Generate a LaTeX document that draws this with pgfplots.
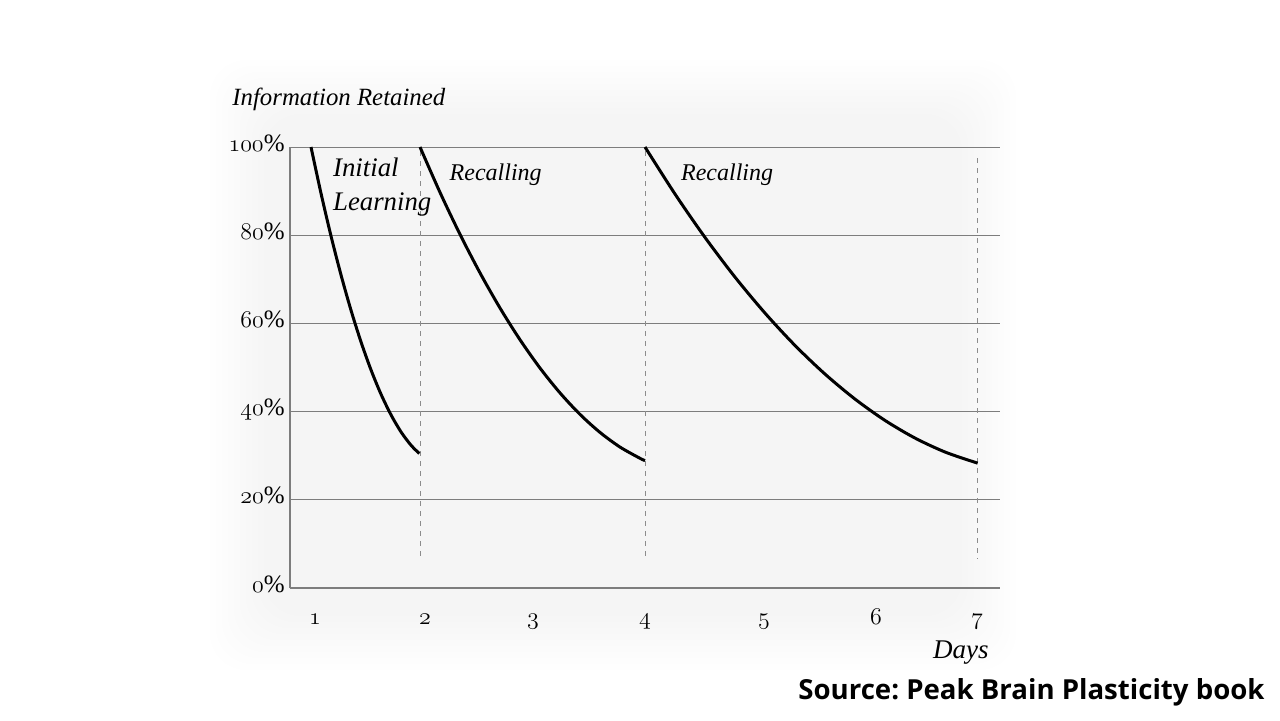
\documentclass[border=0pt]{standalone}
\usepackage{pgfplots}
\pgfplotsset{compat=1.18}
\usepackage{fontspec}
\setmainfont{Liberation Serif}
\newfontfamily\srcfont{Open Sans}
\newcommand\osn[1]{{\usefont{OML}{lmm}{m}{it}#1}}
\definecolor{gridc}{RGB}{125,125,125}
\definecolor{dashc}{RGB}{140,140,140}
\frenchspacing
\begin{document}
\begin{tikzpicture}
\path[use as bounding box] (0,0) rectangle (640pt,360pt);
% very soft background glow
\foreach \i in {0,...,9}{
  \fill[black, opacity=0.0025, rounded corners=18pt]
    ({105pt+\i*3pt},{25pt+\i*3pt}) rectangle ({508pt-\i*3pt},{330pt-\i*3pt});
}
\begin{axis}[
  at={(145pt,66pt)}, anchor=south west,
  scale only axis, width=355pt, height=220.5pt,
  xmin=290, xmax=1000, ymin=0, ymax=100,
  axis lines*=left,
  axis line style={draw=gridc, line width=0.6pt},
  ymajorgrids, grid style={draw=gridc, line width=0.5pt},
  major tick length=0pt,
  xtick={315,425,533,645,764,876,977},
  xticklabels={\osn{1},\osn{2},\osn{3},\osn{4},\osn{5},\osn{6},\osn{7}},
  ytick={0,20,40,60,80,100},
  yticklabels={\osn{0}\%,\osn{20}\%,\osn{40}\%,\osn{60}\%,\osn{80}\%,\osn{100}\%},
  yticklabel style={font=\fontsize{12.5}{14}\selectfont, anchor=base east, inner sep=0pt, xshift=-2.5pt, yshift=-2pt},
  xticklabel style={font=\fontsize{13}{15}\selectfont, anchor=base, yshift=-18pt},
  clip=false,
]
\addplot[dashc, line width=0.5pt, dash pattern=on 2.5pt off 2.5pt, mark=none] coordinates {(420,99) (420,6.5)};
\addplot[dashc, line width=0.5pt, dash pattern=on 2.5pt off 2.5pt, mark=none] coordinates {(645,99) (645,6.5)};
\addplot[dashc, line width=0.5pt, dash pattern=on 2.5pt off 2.5pt, mark=none] coordinates {(977,97.5) (977,6.5)};
% Initial learning
\addplot[black, line width=1.5pt, smooth, mark=none] coordinates {
  (311,100) (321,89.50) (331,79.83) (341,71.00) (351,62.99) (361,55.81)
  (371,49.46) (381,43.95) (391,39.27) (401,35.40) (411,32.38) (419.3,30.5)};
% First recall
\addplot[black, line width=1.5pt, smooth, mark=none] coordinates {
  (420,100) (440,89.71) (460,80.20) (480,71.46) (500,63.49) (520,56.30)
  (540,49.88) (560,44.24) (580,39.37) (600,35.28) (620,31.96) (640,29.41) (645,28.9)};
% Second recall
\addplot[black, line width=1.5pt, smooth, mark=none] coordinates {
  (645,100) (675,89.34) (705,79.50) (735,70.50) (765,62.34) (795,55.00)
  (825,48.51) (855,42.84) (885,38.00) (915,34.00) (945,30.84) (975,28.50) (976.7,28.4)};
\end{axis}
\node[anchor=base west, inner sep=0pt, font=\fontsize{12.4}{14}\selectfont\itshape] at (116pt,307.5pt) {Information Retained};
\node[anchor=base west, inner sep=0pt, font=\fontsize{13.4}{15}\selectfont\itshape] at (166.35pt,271.65pt) {Initial};
\node[anchor=base west, inner sep=0pt, font=\fontsize{13.4}{15}\selectfont\itshape] at (166.35pt,255pt) {Learning};
\node[anchor=base west, inner sep=0pt, font=\fontsize{12}{14}\selectfont\itshape] at (224.65pt,270pt) {Recalling};
\node[anchor=base west, inner sep=0pt, font=\fontsize{12}{14}\selectfont\itshape] at (340.35pt,270pt) {Recalling};
\node[anchor=base east, inner sep=0pt, font=\fontsize{13.5}{15}\selectfont\itshape] at (494.5pt,31pt) {Days};
\node[anchor=base east, inner sep=0pt, font=\fontsize{13.8}{15}\srcfont\bfseries] at (632.5pt,10.35pt) {Source: Peak Brain Plasticity book};
\end{tikzpicture}
\end{document}
